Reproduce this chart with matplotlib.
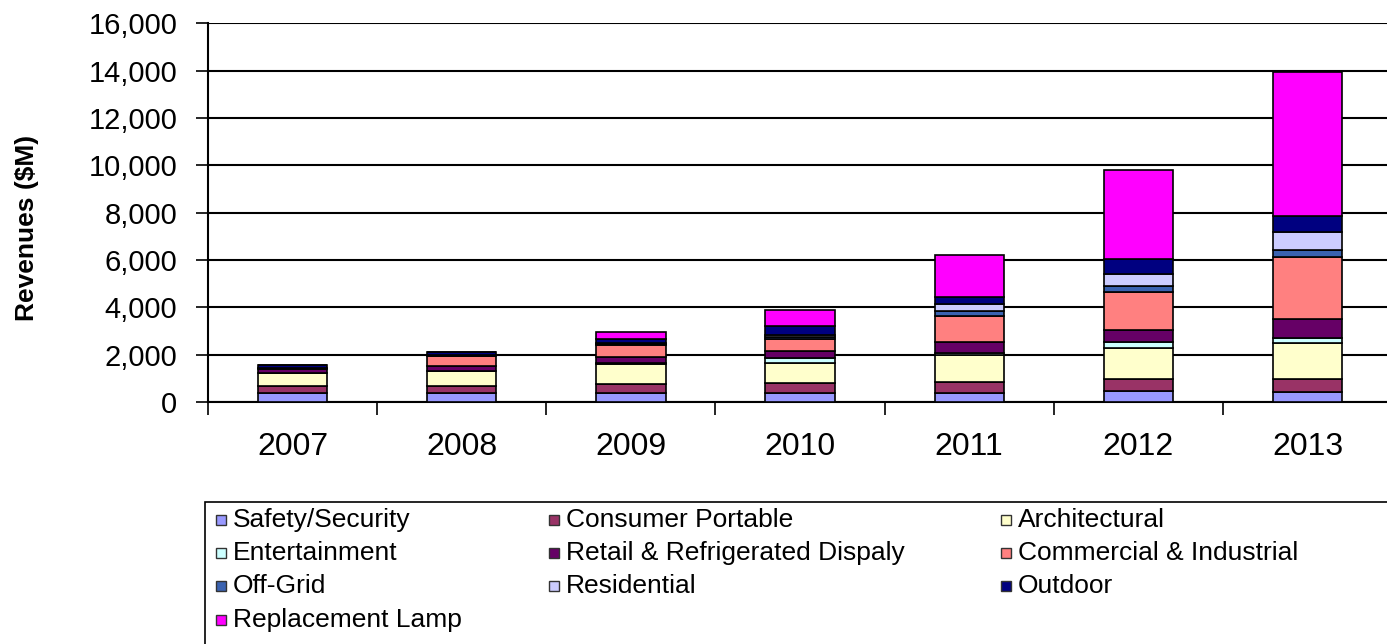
import matplotlib.pyplot as plt
import numpy as np
from matplotlib.patches import Rectangle

plt.rcParams['font.family'] = ['Liberation Sans', 'DejaVu Sans']

years = ['2007', '2008', '2009', '2010', '2011', '2012', '2013']

segments = ['Safety/Security', 'Consumer Portable', 'Architectural',
            'Entertainment', 'Retail & Refrigerated Dispaly', 'Commercial & Industrial',
            'Off-Grid', 'Residential', 'Outdoor', 'Replacement Lamp']

safety = [366, 366, 366, 366, 370, 465, 437]
consumer = [311, 311, 395, 424, 490, 495, 523]
architectural = [536, 606, 846, 847, 1130, 1295, 1520]
entertainment = [0, 20, 40, 213, 70, 255, 200]
retail = [180, 220, 240, 278, 490, 505, 820]
commercial = [40, 394, 520, 537, 1090, 1625, 2620]
off_grid = [0, 20, 30, 60, 180, 240, 310]
residential = [0, 30, 50, 110, 320, 535, 730]
outdoor = [130, 160, 170, 350, 310, 620, 700]
replacement = [0, 0, 310, 705, 1760, 3780, 6060]

colors = ['#9999FF', '#993366', '#FFFFCC', '#CCFFFF', '#660066',
          '#FF8080', '#3A62B0', '#CCCCFF', '#000080', '#FF00FF']

series = [safety, consumer, architectural, entertainment, retail,
          commercial, off_grid, residential, outdoor, replacement]

fig = plt.figure(figsize=(13.87, 6.44), dpi=100)
ax = fig.add_axes([0.15, 0.376, 0.85, 0.588])

x = np.arange(len(years))
bottom = np.zeros(len(years))
for vals, c, name in zip(series, colors, segments):
    ax.bar(x, vals, width=0.41, bottom=bottom, color=c, edgecolor='black',
           linewidth=1.2, label=name, zorder=3)
    bottom += np.array(vals)

ax.set_ylim(0, 16000)
ax.set_xlim(-0.5, 6.47)
ax.set_yticks(np.arange(0, 16001, 2000))
ax.set_yticklabels([f'{v:,}' for v in range(0, 16001, 2000)], fontsize=21)
ax.grid(axis='y', color='black', linewidth=1.5, zorder=0)
ax.tick_params(axis='y', length=9, width=1.2, pad=13)

ax.set_xticks(np.arange(-0.5, 6.5, 1.0))
ax.set_xticklabels([])
ax.tick_params(axis='x', which='major', length=9, width=1.2)
ax.set_xticks(x, minor=True)
ax.set_xticklabels(years, minor=True, fontsize=23)
ax.tick_params(axis='x', which='minor', length=0, pad=22)

for s in ['top', 'right']:
    ax.spines[s].set_visible(False)
ax.spines['left'].set_linewidth(1.5)
ax.spines['bottom'].set_linewidth(1.5)

ax.set_ylabel('Revenues ($M)', fontsize=19, fontweight='bold')
ax.yaxis.set_label_coords(-0.143, 0.46)

# legend box drawn by hand to mimic the spreadsheet layout
W, H = 1387, 644
fig.patches.append(Rectangle((205 / W, -0.01), (1400 - 205) / W, (644 - 502) / H + 0.01,
                             transform=fig.transFigure, fill=False,
                             edgecolor='black', linewidth=1.2))
col_x = [216, 549, 1001]
row_y = [520, 553, 586, 620]
for i, (name, c) in enumerate(zip(segments, colors)):
    r, col = divmod(i, 3)
    px, py = col_x[col], row_y[r]
    fig.patches.append(Rectangle((px / W, (H - py - 5) / H), 10 / W, 10 / H,
                                 transform=fig.transFigure, facecolor=c,
                                 edgecolor='#333333', linewidth=1))
    fig.text((px + 17) / W, (H - py) / H, name, fontsize=19, va='center', ha='left')

fig.savefig('out.png', dpi=100)
